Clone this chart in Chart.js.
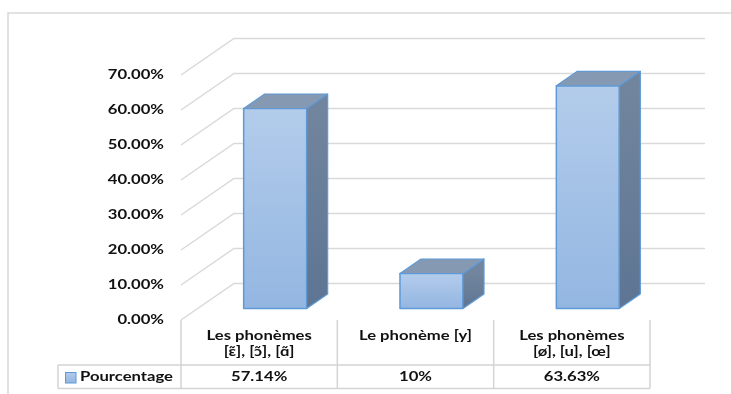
<!DOCTYPE html>
<html>
<head>
<meta charset="utf-8">
<script src="https://cdn.jsdelivr.net/npm/chart.js@4.4.1/dist/chart.umd.min.js"></script>
<style>
  html, body { margin: 0; padding: 0; background: #ffffff; }
  canvas { display: block; }
</style>
</head>
<body>
<canvas id="chart" width="731" height="394"></canvas>
<script>
// Category labels (one entry per line of the table header cell)
const categories = [
  ['Les phonèmes', '[ɛ̃], [ɔ̃], [ɑ̃]'],
  ['Le phonème [y]'],
  ['Les phonèmes', '[ø], [u], [œ]']
];
const seriesName = 'Pourcentage';
const values = [57.14, 10, 63.63];
const tickValues = [0, 10, 20, 30, 40, 50, 60, 70];
const tickLabels = tickValues.map(v => v.toFixed(2) + '%');

// Oblique "3D" geometry (pixels)
const WALL = { dx: 53, dy: -36.5 };      // front edge -> back wall
const BAR_POS = { dx: 16, dy: -11.5 };   // front edge -> bar front face
const BAR_DEPTH = { dx: 21, dy: -14.5 }; // bar front face -> bar back
const PAD = { left: 181, right: 81, top: 75, bottom: 74 };
const AREA_W = 731 - PAD.left - PAD.right;
const AREA_H = 394 - PAD.top - PAD.bottom;
const Y_MAX = 70;
const pxPerUnitY = AREA_H / Y_MAX;
const colW = AREA_W / categories.length;

const FONT = 'bold 13px Lato, "Open Sans", "DejaVu Sans", sans-serif';
const SX = 1.28;      // horizontal stretch of the table/axis lettering
const TEXT = '#111111';
const GRID = '#d9d9d9';

function stretchedText(ctx, text, x, y, align) {
  ctx.save();
  ctx.font = FONT;
  ctx.fillStyle = TEXT;
  ctx.textBaseline = 'middle';
  ctx.textAlign = 'left';
  const w = ctx.measureText(text).width * SX;
  let x0 = x;
  if (align === 'center') x0 = x - w / 2;
  else if (align === 'right') x0 = x - w;
  ctx.translate(x0, y);
  ctx.scale(SX, 1);
  ctx.fillText(text, 0, 0);
  ctx.restore();
}

function frontGradient(ctx, top, bottom) {
  if (!isFinite(top) || !isFinite(bottom) || top === bottom) return '#a3c1e6';
  const g = ctx.createLinearGradient(0, top, 0, bottom);
  g.addColorStop(0, '#b3cceb');
  g.addColorStop(1, '#93b6e1');
  return g;
}

// Back wall gridlines, side wall diagonals and value axis labels
const wallPlugin = {
  id: 'wall',
  beforeDatasetsDraw(chart) {
    const { ctx, chartArea } = chart;
    const y = chart.scales.y;
    ctx.save();
    ctx.strokeStyle = GRID;
    ctx.lineWidth = 1.5;
    tickValues.forEach((v, i) => {
      const yf = y.getPixelForValue(v);
      const yb = yf + WALL.dy;
      ctx.beginPath();
      ctx.moveTo(chartArea.left, yf);
      ctx.lineTo(chartArea.left + WALL.dx, yb);
      ctx.lineTo(chartArea.right + WALL.dx + 2, yb);
      ctx.stroke();
      stretchedText(ctx, tickLabels[i], chartArea.left - 17, yf, 'right');
    });
    ctx.restore();
  }
};

// Front gradient, side and top faces of each bar
const boxPlugin = {
  id: 'box',
  afterDatasetsDraw(chart) {
    const { ctx } = chart;
    const meta = chart.getDatasetMeta(0);
    ctx.save();
    ctx.lineJoin = 'round';
    meta.data.forEach(bar => {
      const l = bar.x - bar.width / 2, r = bar.x + bar.width / 2;
      const t = bar.y, b = bar.base;
      const { dx, dy } = BAR_DEPTH;
      // front face
      ctx.fillStyle = frontGradient(ctx, t, b);
      ctx.fillRect(l, t, r - l, b - t);
      ctx.strokeStyle = '#5f9ad6';
      ctx.lineWidth = 1.5;
      ctx.strokeRect(l, t, r - l, b - t);
      // side face
      const gs = ctx.createLinearGradient(0, t, 0, b);
      gs.addColorStop(0, '#72859e');
      gs.addColorStop(1, '#5d7593');
      ctx.beginPath();
      ctx.moveTo(r, t);
      ctx.lineTo(r + dx, t + dy);
      ctx.lineTo(r + dx, b + dy);
      ctx.lineTo(r, b);
      ctx.closePath();
      ctx.fillStyle = gs;
      ctx.fill();
      ctx.lineWidth = 1.2;
      ctx.stroke();
      // top face
      ctx.beginPath();
      ctx.moveTo(l, t);
      ctx.lineTo(l + dx, t + dy);
      ctx.lineTo(r + dx, t + dy);
      ctx.lineTo(r, t);
      ctx.closePath();
      ctx.fillStyle = '#8699b3';
      ctx.fill();
      ctx.stroke();
    });
    ctx.restore();
  }
};

// Data table under the plot plus the outer frame
const tablePlugin = {
  id: 'table',
  afterDraw(chart) {
    const { ctx, chartArea } = chart;
    const x = chart.scales.x;
    const top = chartArea.bottom;
    const rowTop = 365, rowBottom = 388.5, legendLeft = 58;
    ctx.save();
    // outer frame
    ctx.strokeStyle = GRID;
    ctx.lineWidth = 1.5;
    ctx.beginPath();
    ctx.moveTo(8, 400);
    ctx.lineTo(8, 13);
    ctx.lineTo(740, 13);
    ctx.stroke();

    ctx.lineWidth = 1.5;
    ctx.strokeStyle = '#d4d4d4';
    ctx.beginPath();
    for (let i = 0; i <= categories.length; i++) {
      const xx = chartArea.left + i * colW;
      ctx.moveTo(xx, top);
      ctx.lineTo(xx, rowBottom);
    }
    ctx.moveTo(legendLeft, rowTop);
    ctx.lineTo(chartArea.right, rowTop);
    ctx.moveTo(legendLeft, rowBottom);
    ctx.lineTo(chartArea.right, rowBottom);
    ctx.moveTo(legendLeft, rowTop);
    ctx.lineTo(legendLeft, rowBottom);
    ctx.stroke();

    categories.forEach((lines, i) => {
      const cx = x.getPixelForValue(i);
      lines.forEach((line, k) => stretchedText(ctx, line, cx, 336 + k * 16, 'center'));
      stretchedText(ctx, String(values[i]) + '%', cx, 377, 'center');
    });

    // legend key
    ctx.fillStyle = frontGradient(ctx, 372, 383);
    ctx.fillRect(65, 372, 11, 11);
    ctx.strokeStyle = '#5f9ad6';
    ctx.lineWidth = 1;
    ctx.strokeRect(65.5, 372.5, 10.5, 10.5);
    stretchedText(ctx, seriesName, 80, 377, 'left');
    ctx.restore();
  }
};

const barXMin = -0.5 - BAR_POS.dx / colW;
const barYMin = BAR_POS.dy / pxPerUnitY;

new Chart(document.getElementById('chart'), {
  type: 'bar',
  data: {
    labels: categories,
    datasets: [{
      label: seriesName,
      data: values.map((v, i) => ({ x: i, y: v })),
      xAxisID: 'xb',
      yAxisID: 'yb',
      barThickness: 63,
      borderWidth: 1.5,
      borderColor: '#5f9ad6',
      borderSkipped: false,
      backgroundColor: '#a3c1e6'
    }]
  },
  options: {
    responsive: false,
    devicePixelRatio: 1,
    animation: false,
    layout: { padding: PAD },
    plugins: { legend: { display: false }, tooltip: { enabled: false } },
    scales: {
      x: { type: 'category', display: false, offset: true, grid: { display: false } },
      y: { type: 'linear', display: false, min: 0, max: Y_MAX },
      xb: { type: 'linear', display: false, offset: false, min: barXMin, max: barXMin + categories.length },
      yb: { type: 'linear', display: false, offset: false, min: barYMin, max: barYMin + Y_MAX }
    }
  },
  plugins: [wallPlugin, boxPlugin, tablePlugin]
});
</script>
</body>
</html>
